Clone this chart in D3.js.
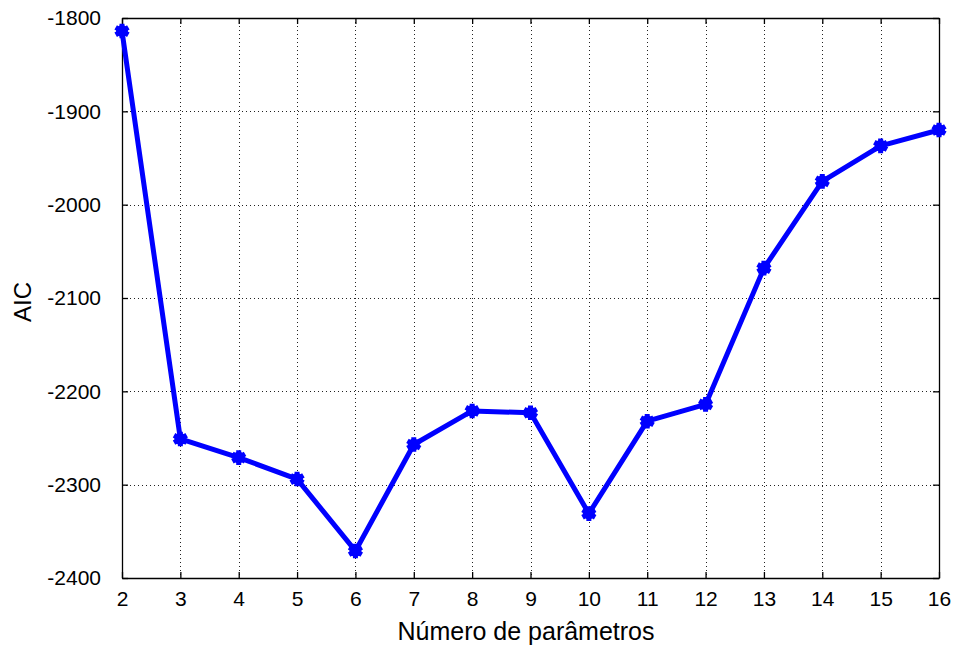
<!DOCTYPE html>
<html>
<head>
<meta charset="utf-8">
<script src="https://cdn.jsdelivr.net/npm/d3@7"></script>
<style>
  body { margin: 0; background: #fff; }
  svg { display: block; }
  text { font-family: "Liberation Sans", Arial, sans-serif; }
</style>
</head>
<body>
<svg id="chart" width="957" height="648"></svg>
<script>
// Number of parameters in each model and its AIC value
const params = [2, 3, 4, 5, 6, 7, 8, 9, 10, 11, 12, 13, 14, 15, 16];
const aic = [-1814, -2251, -2271, -2294, -2371, -2257, -2221, -2223, -2331, -2232, -2214, -2068, -1975, -1937, -1920];
const xTicks = [2, 3, 4, 5, 6, 7, 8, 9, 10, 11, 12, 13, 14, 15, 16];
const yTicks = [-2400, -2300, -2200, -2100, -2000, -1900, -1800];

const margin = { left: 122, right: 18, top: 18, bottom: 70 };
const W = 957, H = 648;
const svg = d3.select("#chart");

const x = d3.scaleLinear().domain([2, 16]).range([margin.left, W - margin.right]);
const y = d3.scaleLinear().domain([-2400, -1800]).range([H - margin.bottom, margin.top]);

const x0 = x.range()[0], x1 = x.range()[1];
const y0 = y.range()[0], y1 = y.range()[1];

// Dotted grid
const grid = svg.append("g").attr("stroke", "#222").attr("stroke-width", 1)
  .attr("stroke-dasharray", "1,3");
grid.selectAll(".gx").data(xTicks.slice(1, -1)).join("line")
  .attr("x1", d => Math.round(x(d)) + 0.5).attr("x2", d => Math.round(x(d)) + 0.5)
  .attr("y1", y1).attr("y2", y0);
grid.selectAll(".gy").data(yTicks.slice(1, -1)).join("line")
  .attr("y1", d => Math.round(y(d)) + 0.5).attr("y2", d => Math.round(y(d)) + 0.5)
  .attr("x1", x0).attr("x2", x1);

// Axes with inward ticks, mirrored on top and right
const tickLen = 6;
const xAxis = d3.axisBottom(x).tickValues(xTicks).tickFormat(d3.format("d"))
  .tickSizeInner(-tickLen).tickSizeOuter(0).tickPadding(13);
const yAxis = d3.axisLeft(y).tickValues(yTicks).tickFormat(d => d3.format("d")(d).replace("−", "-"))
  .tickSizeInner(-tickLen).tickSizeOuter(0).tickPadding(21);

const gx = svg.append("g").attr("transform", `translate(0,${y0})`).call(xAxis);
const gy = svg.append("g").attr("transform", `translate(${x0},0)`).call(yAxis);
const gxt = svg.append("g").attr("transform", `translate(0,${y1})`)
  .call(d3.axisTop(x).tickValues(xTicks).tickSizeInner(-tickLen).tickSizeOuter(0).tickFormat(""));
const gyr = svg.append("g").attr("transform", `translate(${x1},0)`)
  .call(d3.axisRight(y).tickValues(yTicks).tickSizeInner(-tickLen).tickSizeOuter(0).tickFormat(""));

[gx, gy, gxt, gyr].forEach(g => {
  g.select(".domain").attr("stroke", "#000").attr("stroke-width", 1.3);
  g.selectAll(".tick line").attr("stroke", "#000").attr("stroke-width", 1.3);
  g.selectAll(".tick text").attr("fill", "#000").attr("font-size", 21)
    .attr("font-family", "'Liberation Sans', Arial, sans-serif");
});

// Series line and markers
const line = d3.line().x((d, i) => x(params[i])).y(d => y(d));
svg.append("path").datum(aic).attr("d", line)
  .attr("fill", "none").attr("stroke", "#0000ff").attr("stroke-width", 5)
  .attr("stroke-linejoin", "round");

const star = d3.symbol().type(d3.symbolAsterisk).size(150);
svg.selectAll(".mk").data(aic).join("path")
  .attr("transform", (d, i) => `translate(${x(params[i])},${y(d)})`)
  .attr("d", star).attr("fill", "none").attr("stroke", "#0000ff").attr("stroke-width", 5);
svg.selectAll(".mc").data(aic).join("circle")
  .attr("cx", (d, i) => x(params[i])).attr("cy", d => y(d)).attr("r", 6)
  .attr("fill", "#0000ff");

// Axis titles
svg.append("text").attr("x", 526).attr("y", 640)
  .attr("text-anchor", "middle").attr("font-size", 25).text("Número de parâmetros");
svg.append("text").attr("transform", `translate(31,302) rotate(-90)`)
  .attr("text-anchor", "middle").attr("font-size", 24).text("AIC");
</script>
</body>
</html>
